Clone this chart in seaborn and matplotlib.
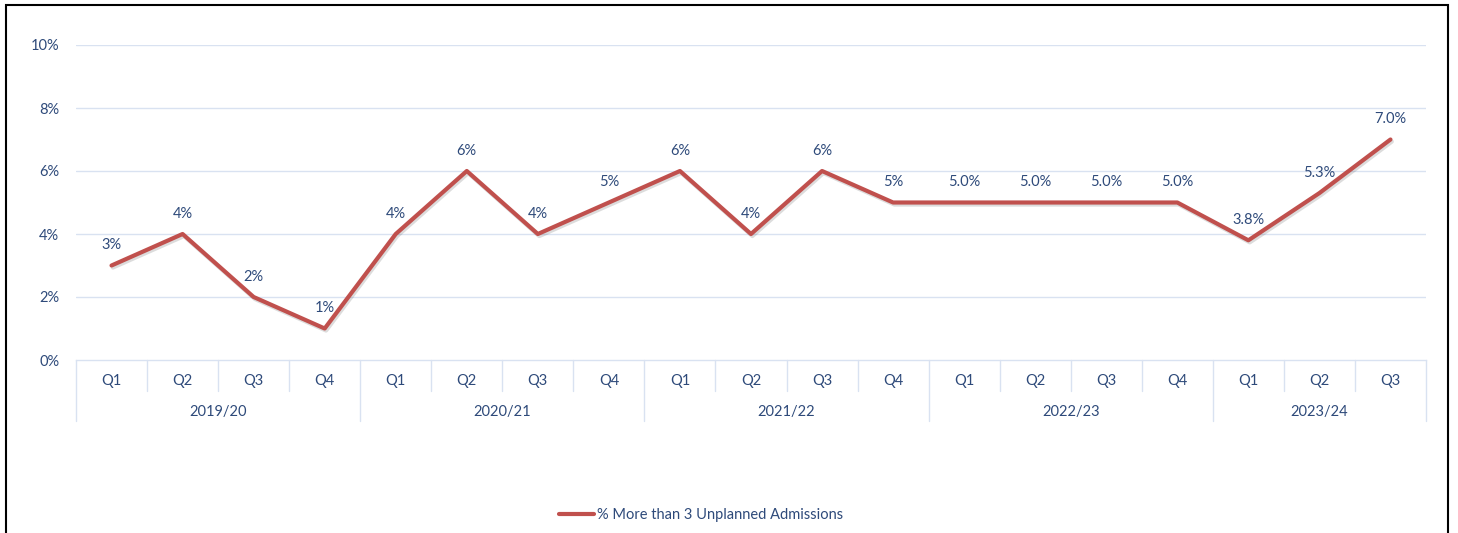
import numpy as np
import pandas as pd
import matplotlib
matplotlib.use("Agg")
import matplotlib.pyplot as plt
import matplotlib.patheffects as pe
from matplotlib.patches import Rectangle
import seaborn as sns

years = ["2019/20", "2020/21", "2021/22", "2022/23", "2023/24"]
quarters_per_year = [4, 4, 4, 4, 3]
quarters = ["Q1", "Q2", "Q3", "Q4"] * 4 + ["Q1", "Q2", "Q3"]
values = [3, 4, 2, 1, 4, 6, 4, 5, 6, 4, 6, 5, 5.0, 5.0, 5.0, 5.0, 3.8, 5.3, 7.0]
value_labels = ["3%", "4%", "2%", "1%", "4%", "6%", "4%", "5%", "6%", "4%", "6%", "5%",
                "5.0%", "5.0%", "5.0%", "5.0%", "3.8%", "5.3%", "7.0%"]
series_name = "% More than 3 Unplanned Admissions"
y_ticks = [0, 2, 4, 6, 8, 10]

text_col = "#2E4A7A"
line_col = "#C0504D"
grid_col = "#D9E2F1"

sns.set_theme(style="white")
plt.rcParams["font.family"] = ["Lato", "DejaVu Sans"]

df = pd.DataFrame({"idx": np.arange(len(values)), "value": values, "series": series_name})

W, H = 1458, 533
fig = plt.figure(figsize=(W / 100, H / 100), dpi=100)
ax = fig.add_axes([76 / W, 1 - 360 / H, (1426 - 76) / W, (360 - 45) / H])

sns.lineplot(data=df, x="idx", y="value", hue="series", palette=[line_col],
             linewidth=3, ax=ax, legend=False,
             path_effects=[pe.SimpleLineShadow(offset=(1, -1.5), alpha=0.15), pe.Normal()])

for i, (v, lab) in enumerate(zip(values, value_labels)):
    ax.annotate(lab, (i, v), xytext=(0, 9.5), textcoords="offset points",
                ha="center", va="bottom", fontsize=10.5, color=text_col)

ax.set_xlim(-0.5, len(values) - 0.5)
ax.set_ylim(0, 10)
ax.set_yticks(y_ticks)
ax.set_yticklabels([f"{t}%" for t in y_ticks], color=text_col, fontsize=10.5)
ax.tick_params(axis="y", length=0, pad=12)
ax.set_xticks([])
ax.set_xlabel("")
ax.set_ylabel("")
for t in y_ticks[1:]:
    ax.axhline(t, color=grid_col, linewidth=1, zorder=0)
for s in ["top", "right", "left"]:
    ax.spines[s].set_visible(False)
ax.spines["bottom"].set_color(grid_col)
ax.spines["bottom"].set_linewidth(1)

# two-level category axis
trans = ax.get_xaxis_transform()
axh = 360 - 45
q_y = -21 / axh
q_sep = -31 / axh
y_y = -52 / axh
y_sep = -61 / axh
for i, q in enumerate(quarters):
    ax.text(i, q_y, q, transform=trans, ha="center", va="center", fontsize=10.5,
            color=text_col, clip_on=False)
year_bounds = np.concatenate([[0], np.cumsum(quarters_per_year)])
for i in range(len(values) + 1):
    bottom = y_sep if i in year_bounds else q_sep
    ax.plot([i - 0.5, i - 0.5], [0, bottom], transform=trans, color=grid_col,
            linewidth=1, clip_on=False)
for k, yr in enumerate(years):
    mid = (year_bounds[k] + year_bounds[k + 1] - 1) / 2
    ax.text(mid, y_y, yr, transform=trans, ha="center", va="center", fontsize=10.5,
            color=text_col, clip_on=False)

# legend
handle = plt.Line2D([], [], color=line_col, linewidth=3, solid_capstyle="round")
leg = fig.legend([handle], [series_name], loc="center", bbox_to_anchor=(701 / W, 1 - 515 / H),
                 frameon=False, fontsize=10.5, handlelength=2.4, handletextpad=0.2)
for t in leg.get_texts():
    t.set_color(text_col)

# outer frame
fig.patches.append(Rectangle((6 / W, -0.05), (1448 - 6) / W, 1 - 5 / H + 0.05,
                             transform=fig.transFigure, fill=False, edgecolor="#000000",
                             linewidth=1.5))

fig.savefig("out.png", dpi=100)
